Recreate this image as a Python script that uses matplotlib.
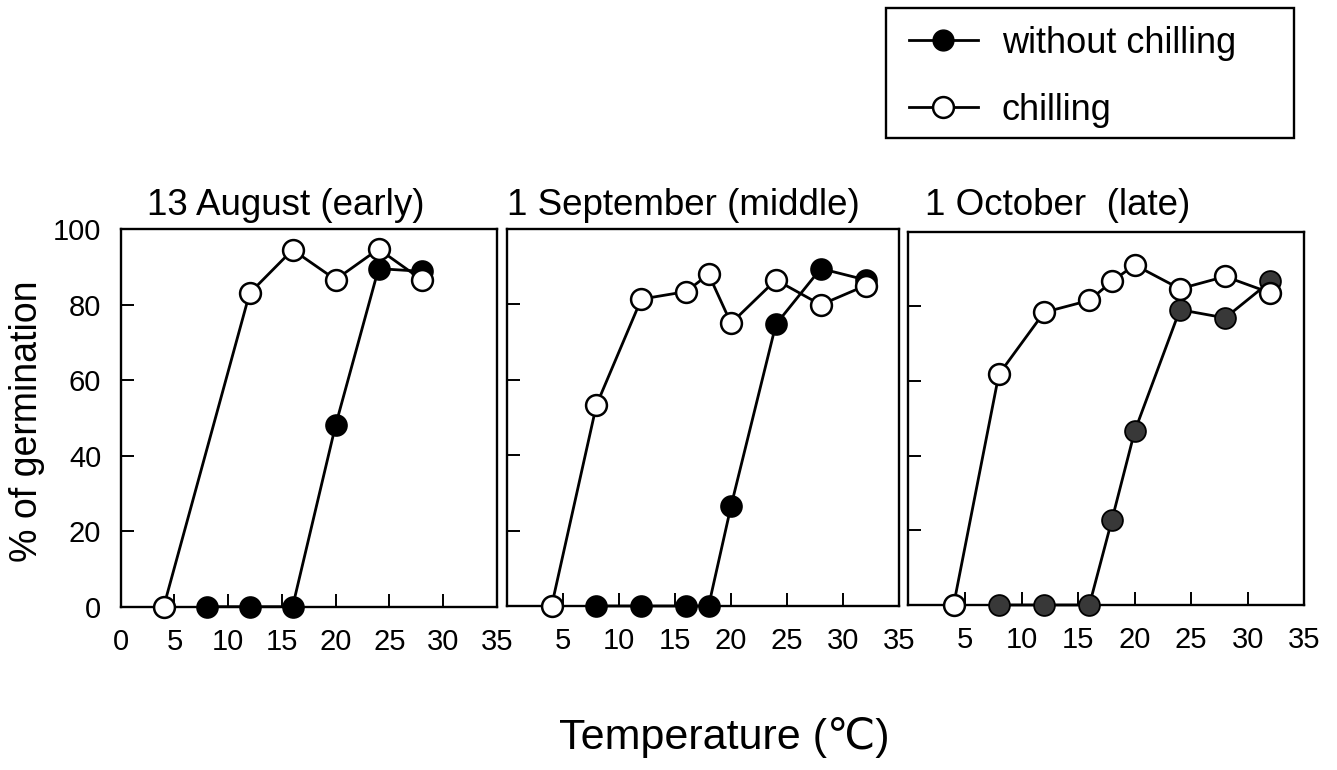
import matplotlib
matplotlib.use('Agg')
import matplotlib.pyplot as plt
from matplotlib.lines import Line2D
from matplotlib.patches import Rectangle

plt.rcParams['font.family'] = ['Liberation Sans', 'DejaVu Sans']

# Data: temperature (C) and % germination
aug_temp_nochill = [8, 12, 16, 20, 24, 28]
aug_nochill = [0, 0, 0, 48, 89.5, 88.8]
aug_temp_chill = [4, 12, 16, 20, 24, 28]
aug_chill = [0, 83, 94.5, 86.6, 94.7, 86.6]

sep_temp_nochill = [8, 12, 16, 18, 20, 24, 28, 32]
sep_nochill = [0, 0, 0, 0, 26.5, 74.7, 89.5, 86.5]
sep_temp_chill = [4, 8, 12, 16, 18, 20, 24, 28, 32]
sep_chill = [0, 53.3, 81.4, 83.4, 88, 75, 86.5, 79.9, 85]

oct_temp_nochill = [8, 12, 16, 18, 20, 24, 28, 32]
oct_nochill = [0, 0, 0, 22.9, 46.5, 79.1, 76.9, 86.7]
oct_temp_chill = [4, 8, 12, 16, 18, 20, 24, 28, 32]
oct_chill = [0, 61.8, 78.4, 81.6, 86.7, 91.1, 84.7, 88, 83.6]

titles = ['13 August (early)', '1 September (middle)', '1 October  (late)']
xticks = [0, 5, 10, 15, 20, 25, 30, 35]
yticks = [0, 20, 40, 60, 80, 100]

W, H = 1337, 770
fig = plt.figure(figsize=(W / 100, H / 100), dpi=100)
fig.patch.set_facecolor('white')

# axes boxes in figure fraction [left, bottom, width, height]
boxes = [[0.0903, 0.2121, 0.2812, 0.4905],
         [0.3790, 0.2130, 0.2936, 0.4896],
         [0.6794, 0.2143, 0.2962, 0.4848]]
title_x = [147 / W, 507 / W, 925 / W]
fill_cols = ['black', 'black', '#383838']

panels = [(aug_temp_nochill, aug_nochill, aug_temp_chill, aug_chill),
          (sep_temp_nochill, sep_nochill, sep_temp_chill, sep_chill),
          (oct_temp_nochill, oct_nochill, oct_temp_chill, oct_chill)]

for i, (tn, yn, tc, yc) in enumerate(panels):
    ax = fig.add_axes(boxes[i])
    ax.plot(tn, yn, color='black', lw=2, marker='o', ms=15,
            mfc=fill_cols[i], mec='black', mew=1.3, clip_on=False, zorder=3)
    ax.plot(tc, yc, color='black', lw=2, marker='o', ms=15,
            mfc='white', mec='black', mew=1.8, clip_on=False, zorder=4)
    ax.set_xlim(0, 35)
    ax.set_ylim(0, 100)
    ax.set_xticks(xticks)
    ax.set_yticks(yticks)
    if i == 0:
        ax.set_xticklabels([str(t) for t in xticks])
        ax.set_yticklabels([str(t) for t in yticks])
    else:
        ax.set_xticklabels([''] + [str(t) for t in xticks[1:]])
        ax.set_yticklabels([])
    ax.tick_params(axis='x', direction='in', length=9.5, width=1.4,
                   labelsize=21, pad=15)
    ax.tick_params(axis='y', direction='in', length=9.5, width=1.4,
                   labelsize=21, pad=14)
    for s in ax.spines.values():
        s.set_linewidth(1.7)
    fig.text(title_x[i], 1 - 215 / H, titles[i], fontsize=26.5,
             ha='left', va='baseline')

fig.text(27 / W, 1 - 421 / H, '% of germination', fontsize=27,
         rotation=90, ha='center', va='center')
fig.text(724 / W, 1 - 737 / H, 'Temperature (\u2103)', fontsize=31,
         ha='center', va='center')

# legend box (frame drawn separately to match its size)
fig.patches.append(Rectangle((886 / W, 1 - 138 / H), 408 / W, 130 / H,
                             transform=fig.transFigure, fill=False,
                             edgecolor='black', lw=1.7))
handles = [Line2D([], [], color='black', lw=2, marker='o', ms=15,
                  mfc='black', mec='black'),
           Line2D([], [], color='black', lw=2, marker='o', ms=15,
                  mfc='white', mec='black', mew=1.8)]
fig.legend(handles, ['without chilling', 'chilling'],
           loc='upper left', bbox_to_anchor=(909 / W, 1 - 26 / H),
           frameon=False, fontsize=26, handlelength=1.91,
           handletextpad=0.66, labelspacing=0.88, borderpad=0,
           borderaxespad=0)

plt.savefig('out.png', dpi=100, facecolor='white')
